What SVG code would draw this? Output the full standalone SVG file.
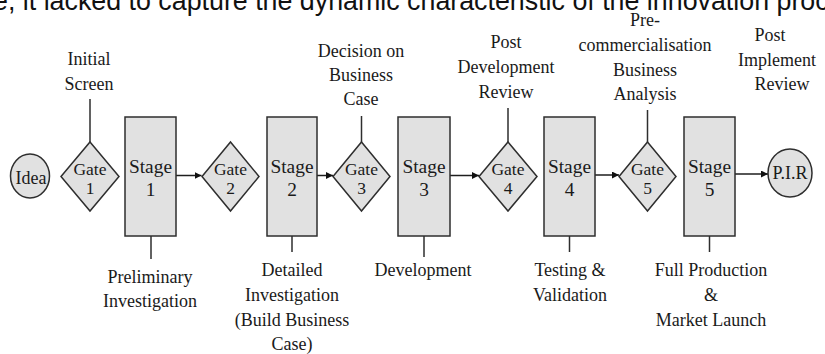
<svg xmlns="http://www.w3.org/2000/svg" width="825" height="354" viewBox="0 0 825 354">
  <style>
    .bg { fill: #ffffff; }
    .caption { font-family: "Liberation Sans", Arial, sans-serif; font-size: 26.8px; fill: #111111; }
    .lbl { font-family: "Liberation Serif", "Times New Roman", serif; font-size: 18px; fill: #1a1a1a; text-anchor: middle; }
    .gtxt { font-family: "Liberation Serif", "Times New Roman", serif; font-size: 17.5px; fill: #1a1a1a; text-anchor: middle; }
    .stxt { font-family: "Liberation Serif", "Times New Roman", serif; font-size: 19.4px; fill: #1a1a1a; text-anchor: middle; }
    .shape { fill: #e1e1e1; stroke: #2e2e2e; stroke-width: 1.5; }
    .tick { stroke: #2e2e2e; stroke-width: 1.5; fill: none; }
    .flow { stroke: #1e1e1e; stroke-width: 1.5; fill: none; marker-end: url(#arrow); }
  </style>
  <defs>
    <marker id="arrow" viewBox="0 0 10 10" refX="10" refY="5" markerWidth="7" markerHeight="7" markerUnits="userSpaceOnUse" orient="auto">
      <path d="M0,0 L10,5 L0,10 z" fill="#111111"/>
    </marker>
  </defs>

  <rect class="bg" x="0" y="0" width="825" height="354"/>

  <!-- running text line above the figure -->
  <text class="caption" x="-7" y="10">e, it lacked to capture the dynamic characteristic of the innovation proc</text>

  <!-- connectors: stage-to-gate arrows and label ticks -->
  <g id="connectors">
    <line class="flow" x1="176" y1="175.5" x2="201.5" y2="175.5"/>
    <line class="flow" x1="317" y1="175.5" x2="333" y2="175.5"/>
    <line class="flow" x1="450" y1="175.5" x2="479" y2="175.5"/>
    <line class="flow" x1="595" y1="175" x2="619" y2="175"/>
    <line class="flow" x1="735" y1="174" x2="768" y2="174"/>
    <!-- gate ticks up to their review labels -->
    <line class="tick" x1="90" y1="142" x2="90" y2="99"/>
    <line class="tick" x1="361.5" y1="142" x2="361.5" y2="116"/>
    <line class="tick" x1="508" y1="142" x2="508" y2="108"/>
    <line class="tick" x1="647.5" y1="142" x2="647.5" y2="110"/>
    <!-- stage ticks down to their activity labels -->
    <line class="tick" x1="151" y1="236" x2="151" y2="259"/>
    <line class="tick" x1="292" y1="236" x2="292" y2="252"/>
    <line class="tick" x1="424" y1="236" x2="424" y2="257"/>
    <line class="tick" x1="569.5" y1="236" x2="569.5" y2="252"/>
    <line class="tick" x1="709.5" y1="236" x2="709.5" y2="252"/>
  </g>

  <g id="idea">
    <ellipse class="shape" cx="30" cy="176" rx="19.5" ry="22"/>
    <text class="lbl" x="31" y="184">Idea</text>
  </g>

  <g id="gate1">
    <polygon class="shape" points="90,142 119,176.5 90,211 61,176.5"/>
    <text class="gtxt" x="90" y="175">Gate</text>
    <text class="gtxt" x="90" y="194">1</text>
  </g>
  <g id="stage1">
    <rect class="shape" x="125" y="117" width="51" height="119"/>
    <text class="stxt" x="150.5" y="173">Stage</text>
    <text class="stxt" x="150.5" y="196">1</text>
  </g>
  <g id="gate2">
    <polygon class="shape" points="230.5,142 259,176.5 230.5,211 202,176.5"/>
    <text class="gtxt" x="230.5" y="175">Gate</text>
    <text class="gtxt" x="230.5" y="194">2</text>
  </g>
  <g id="stage2">
    <rect class="shape" x="267" y="117" width="50" height="119"/>
    <text class="stxt" x="292" y="173">Stage</text>
    <text class="stxt" x="292" y="196">2</text>
  </g>
  <g id="gate3">
    <polygon class="shape" points="361.5,142 390,176.5 361.5,211 333,176.5"/>
    <text class="gtxt" x="361.5" y="175">Gate</text>
    <text class="gtxt" x="361.5" y="194">3</text>
  </g>
  <g id="stage3">
    <rect class="shape" x="398" y="117" width="52" height="119"/>
    <text class="stxt" x="424" y="173">Stage</text>
    <text class="stxt" x="424" y="196">3</text>
  </g>
  <g id="gate4">
    <polygon class="shape" points="508,142 537,176.5 508,211 479,176.5"/>
    <text class="gtxt" x="508" y="175">Gate</text>
    <text class="gtxt" x="508" y="194">4</text>
  </g>
  <g id="stage4">
    <rect class="shape" x="544" y="117" width="51" height="119"/>
    <text class="stxt" x="569.5" y="173">Stage</text>
    <text class="stxt" x="569.5" y="196">4</text>
  </g>
  <g id="gate5">
    <polygon class="shape" points="647.5,142 676,176.5 647.5,211 619,176.5"/>
    <text class="gtxt" x="647.5" y="175">Gate</text>
    <text class="gtxt" x="647.5" y="194">5</text>
  </g>
  <g id="stage5">
    <rect class="shape" x="684" y="117" width="51" height="119"/>
    <text class="stxt" x="709.5" y="173">Stage</text>
    <text class="stxt" x="709.5" y="196">5</text>
  </g>
  <g id="pir">
    <ellipse class="shape" cx="790" cy="173" rx="22" ry="24"/>
    <text class="lbl" x="790" y="179" font-size="18.5">P.I.R</text>
  </g>

  <!-- review labels above the gates -->
  <g id="label-gate1">
    <text class="lbl" x="89" y="65">Initial</text>
    <text class="lbl" x="89" y="90">Screen</text>
  </g>
  <g id="label-gate3">
    <text class="lbl" x="361" y="57">Decision on</text>
    <text class="lbl" x="361" y="81">Business</text>
    <text class="lbl" x="361" y="105">Case</text>
  </g>
  <g id="label-gate4">
    <text class="lbl" x="506" y="48">Post</text>
    <text class="lbl" x="506" y="73">Development</text>
    <text class="lbl" x="506" y="98">Review</text>
  </g>
  <g id="label-gate5">
    <text class="lbl" x="645" y="26">Pre-</text>
    <text class="lbl" x="645" y="51">commercialisation</text>
    <text class="lbl" x="645" y="76">Business</text>
    <text class="lbl" x="645" y="100">Analysis</text>
  </g>
  <g id="label-pir">
    <text class="lbl" x="770" y="41">Post</text>
    <text class="lbl" x="777" y="66">Implement</text>
    <text class="lbl" x="782" y="90">Review</text>
  </g>

  <!-- activity labels below the stages -->
  <g id="label-stage1">
    <text class="lbl" x="150" y="283">Preliminary</text>
    <text class="lbl" x="150" y="307">Investigation</text>
  </g>
  <g id="label-stage2">
    <text class="lbl" x="292" y="276">Detailed</text>
    <text class="lbl" x="292" y="301">Investigation</text>
    <text class="lbl" x="292" y="326">(Build Business</text>
    <text class="lbl" x="292" y="350">Case)</text>
  </g>
  <g id="label-stage3">
    <text class="lbl" x="423" y="276">Development</text>
  </g>
  <g id="label-stage4">
    <text class="lbl" x="570" y="276">Testing &amp;</text>
    <text class="lbl" x="570" y="301">Validation</text>
  </g>
  <g id="label-stage5">
    <text class="lbl" x="711" y="276">Full Production</text>
    <text class="lbl" x="711" y="301">&amp;</text>
    <text class="lbl" x="711" y="326">Market Launch</text>
  </g>
</svg>
